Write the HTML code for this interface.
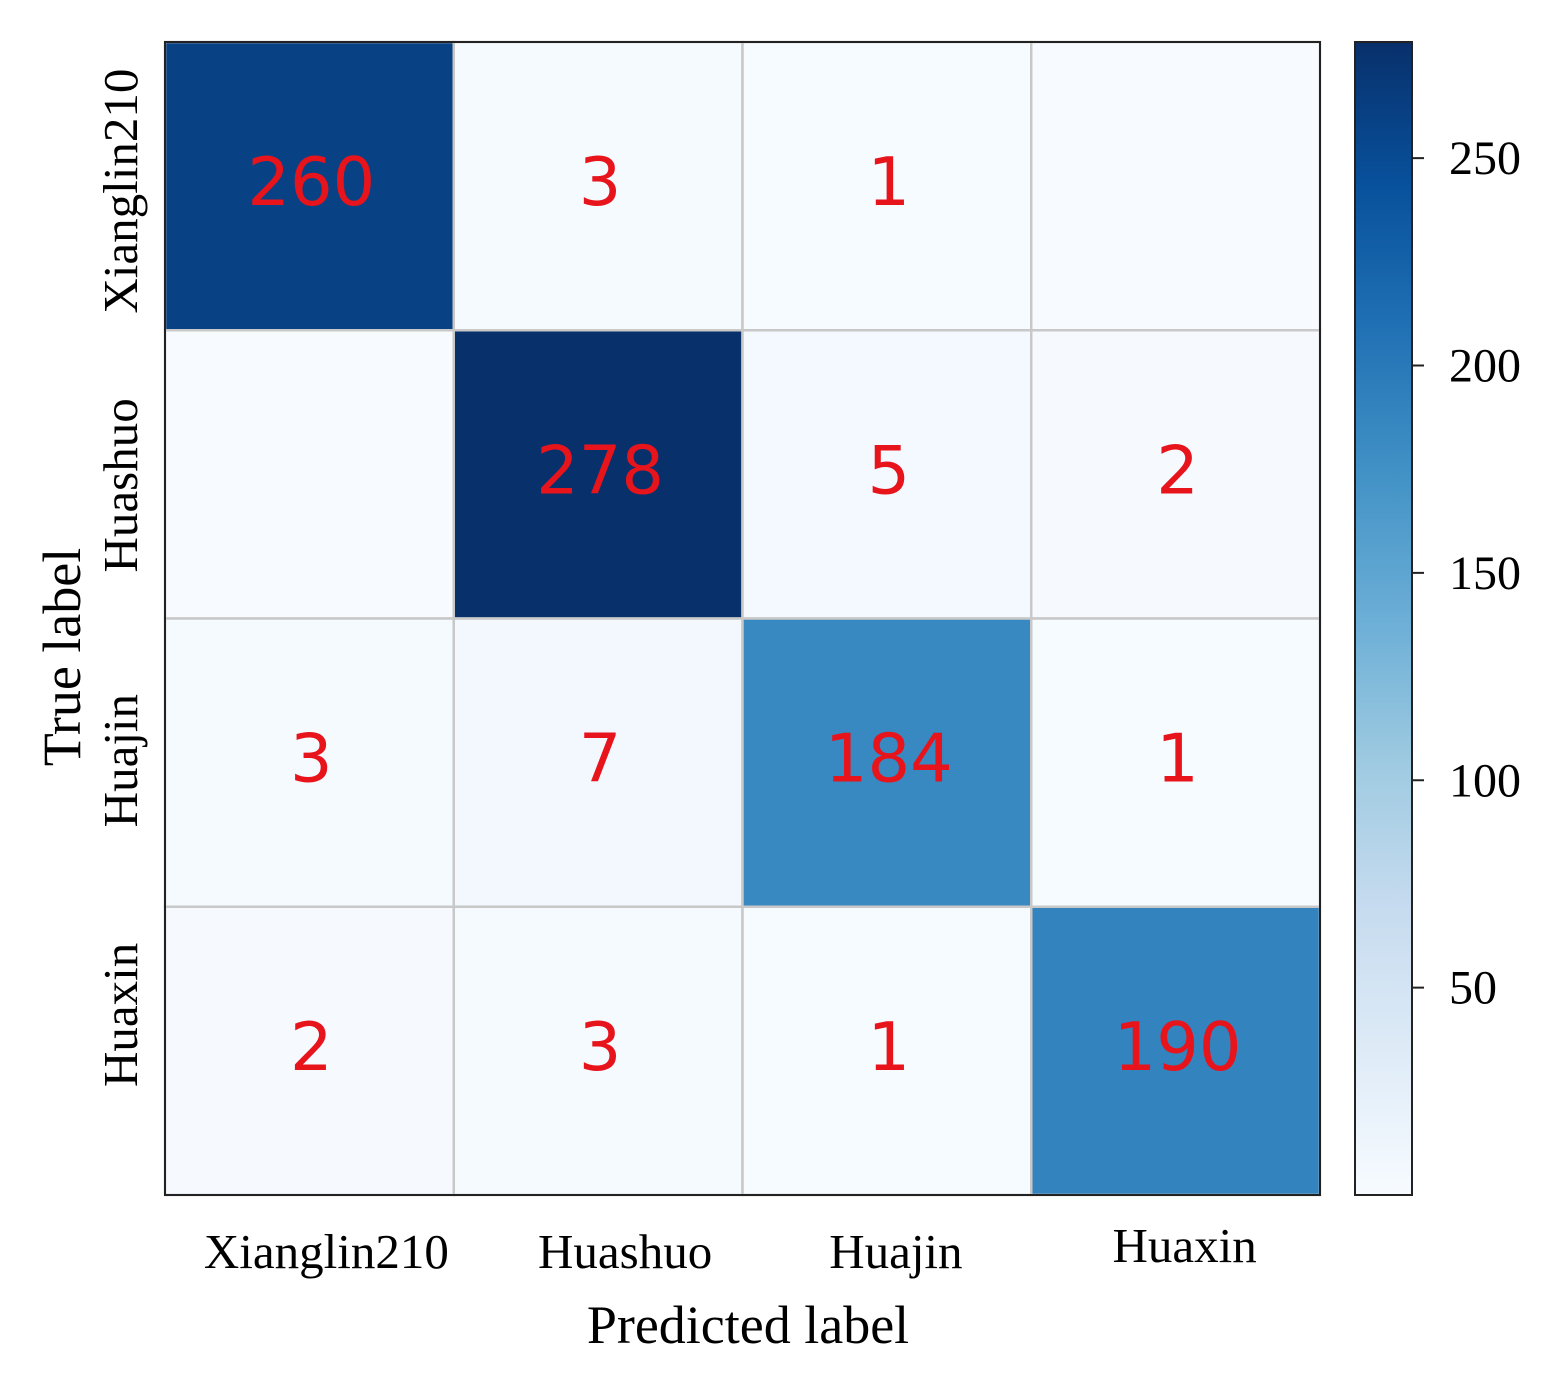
<!DOCTYPE html>
<html><head><meta charset="utf-8"><style>
html,body{margin:0;padding:0;background:#fff;}
svg{display:block;}
</style></head><body>
<svg id="chart" width="1558" height="1375" xmlns="http://www.w3.org/2000/svg">
<defs>
<linearGradient id="cbgrad" x1="0" y1="1" x2="0" y2="0">
<stop offset="0" stop-color="#f7fbff"/><stop offset="0.125" stop-color="#deebf7"/><stop offset="0.25" stop-color="#c6dbef"/><stop offset="0.375" stop-color="#9ecae1"/><stop offset="0.5" stop-color="#6baed6"/><stop offset="0.625" stop-color="#4292c6"/><stop offset="0.75" stop-color="#2171b5"/><stop offset="0.875" stop-color="#08519c"/><stop offset="1" stop-color="#08306b"/>
</linearGradient>
</defs>
<g id="cells"></g>
<g id="annots"></g>
<rect x="165" y="42" width="1155" height="1153" fill="none" stroke="#222" stroke-width="2"/>
<g id="xt"></g>
<g id="yt"></g>
<text x="748" y="1343" font-family="Liberation Serif, serif" font-size="54" text-anchor="middle">Predicted label</text>
<text transform="translate(80,657) rotate(-90)" font-family="Liberation Serif, serif" font-size="54" text-anchor="middle">True label</text>
<rect x="1355" y="42" width="57" height="1153" fill="url(#cbgrad)" stroke="#222" stroke-width="2"/>
<g id="cbt"></g>
</svg>
<script>
const categories = ["Xianglin210","Huashuo","Huajin","Huaxin"];
const row0 = [260,3,1,0];
const row1 = [0,278,5,2];
const row2 = [3,7,184,1];
const row3 = [2,3,1,190];
const matrix = [row0,row1,row2,row3];
const cbTicks = [50,100,150,200,250];
const vmin = 0, vmax = 278;

const NS="http://www.w3.org/2000/svg";
const X0=165, Y0=42, W=1155, H=1153;
const cw=W/categories.length, ch=H/categories.length;
const xCell=i=>X0+i*cw, yCell=i=>Y0+i*ch;
const cbY=v=>Y0+H-(v-vmin)/(vmax-vmin)*H;
const xLabelShift=[17,27,9,9];
const yLabelShift=[5,11,-2,-36];
const stops=["#f7fbff","#deebf7","#c6dbef","#9ecae1","#6baed6","#4292c6","#2171b5","#08519c","#08306b"].map(h=>[parseInt(h.slice(1,3),16),parseInt(h.slice(3,5),16),parseInt(h.slice(5,7),16)]);
function blues(v){let t=Math.max(0,Math.min(1,(v-vmin)/(vmax-vmin)))*(stops.length-1);let i=Math.min(Math.floor(t),stops.length-2),f=t-i;const c=stops[i].map((a,k)=>Math.round(a+(stops[i+1][k]-a)*f));return `rgb(${c[0]},${c[1]},${c[2]})`;}
function mk(tag,attrs,parent){const e=document.createElementNS(NS,tag);for(const k in attrs)e.setAttribute(k,attrs[k]);parent.appendChild(e);return e;}
const cells=document.getElementById('cells'),ann=document.getElementById('annots');
matrix.forEach((row,r)=>row.forEach((v,c)=>{
  const rc=mk('rect',{x:xCell(c),y:yCell(r),width:cw,height:ch,fill:blues(v),stroke:'#c8c8c8','stroke-width':2.5},cells);
  
  
  if(v!==0){
    const t=mk('text',{x:xCell(c)+cw/2+2,y:yCell(r)+ch/2+19,'text-anchor':'middle','font-family':'DejaVu Sans, sans-serif','font-size':67,fill:'#e8141c'},ann);
    t.textContent=v;
    
    
  }
}));
const xt=document.getElementById('xt'),yt=document.getElementById('yt');
categories.forEach((name,i)=>{
  const t=mk('text',{x:xCell(i)+cw/2+xLabelShift[i],y:(i===3?1262:1268),'text-anchor':'middle','font-family':'Liberation Serif, serif','font-size':49},xt);
  t.textContent=name;
  
  
  const cy=yCell(i)+ch/2+yLabelShift[i];
  const u=mk('text',{transform:`translate(137,${cy}) rotate(-90)`,'text-anchor':'middle','font-family':'Liberation Serif, serif','font-size':49},yt);
  u.textContent=name;
  
  
});
const cbt=document.getElementById('cbt');
cbTicks.forEach(v=>{
  const y=cbY(v);
  const l=mk('line',{x1:1412,x2:1424,y1:y,y2:y,stroke:'#222','stroke-width':2},cbt);
  
  
  const t=mk('text',{x:1449,y:y+16,'font-family':'Liberation Serif, serif','font-size':48},cbt);
  t.textContent=v;
  
  
});
</script>
</body></html>
